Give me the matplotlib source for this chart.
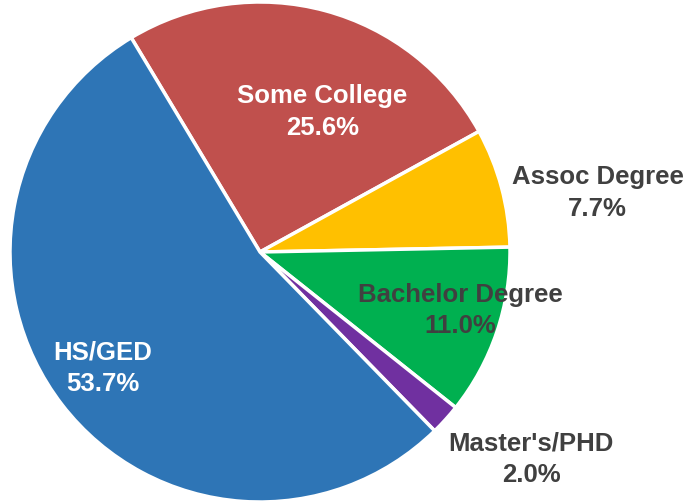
import numpy as np
import matplotlib.pyplot as plt

plt.rcParams['font.family'] = ['Liberation Sans', 'DejaVu Sans']

# slices, clockwise from the top-left
categories = ['Some College', 'Assoc Degree', 'Bachelor Degree', "Master's/PHD", 'HS/GED']
shares = [25.6, 7.7, 11.0, 2.0, 53.7]
colors = ['#C0504D', '#FFC000', '#00B050', '#7030A0', '#2E75B6']
label_colors = ['white', '#404040', '#404040', '#404040', 'white']
# label positions in pie units (radius = 1)
label_xy = [(0.25, 0.565), (1.35, 0.24), (0.80, -0.23), (1.085, -0.825), (-0.63, -0.46)]

fig = plt.figure(figsize=(6.9, 5.02), dpi=100)
R = 250
cx, cy = 260, 502 - 253
ax = fig.add_axes([(cx - R) / 690, (cy - R) / 502, 2 * R / 690, 2 * R / 502])

ax.pie(shares, colors=colors, startangle=121, counterclock=False,
       wedgeprops=dict(edgecolor='white', linewidth=2.5))
ax.set_xlim(-1, 1)
ax.set_ylim(-1, 1)
ax.set_aspect('equal')

for name, val, (x, y), c in zip(categories, shares, label_xy, label_colors):
    ax.text(x, y, f'{name}\n{val:.1f}%', ha='center', va='center',
            fontsize=18.5, fontweight='bold', color=c, linespacing=1.4,
            clip_on=False)

fig.savefig('out.png', dpi=100)
